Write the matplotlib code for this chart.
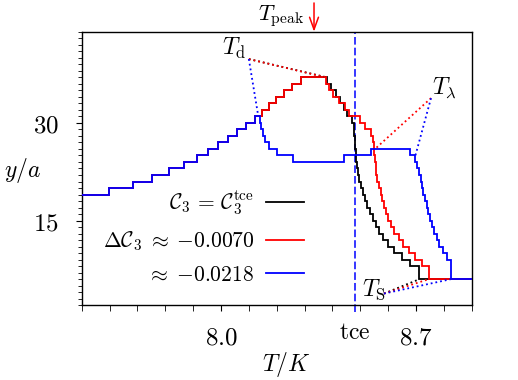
import matplotlib
matplotlib.use("Agg")
import matplotlib.pyplot as plt
from matplotlib.lines import Line2D

plt.rcParams["mathtext.fontset"] = "cm"

# rising branch shared by all three curves: level y starts at T
T_rise = [7.5, 7.598, 7.684, 7.753, 7.815, 7.866, 7.913, 7.952, 7.991, 8.027, 8.059, 8.089, 8.121]
y_rise = [19, 20, 21, 22, 23, 24, 25, 26, 27, 28, 29, 30, 31]

# blue (dC3 ~ -0.0218) after its peak
T_blue = [8.140, 8.144, 8.151, 8.159, 8.174, 8.200, 8.259, 8.443, 8.537, 8.678, 8.698,
          8.703, 8.712, 8.718, 8.722, 8.727, 8.732, 8.738, 8.744, 8.751, 8.759, 8.766,
          8.774, 8.784, 8.797, 8.810, 8.824]
y_blue = [30, 29, 28, 27, 26, 25, 24, 25, 26, 25, 24,
          23, 22, 21, 20, 19, 18, 17, 16, 15, 14, 13,
          12, 11, 10, 9, 6]

# dome shared by red and black
T_dome = [8.147, 8.173, 8.199, 8.227, 8.256, 8.286]
y_dome = [32, 33, 34, 35, 36, 37]

T_red = [8.376, 8.386, 8.402, 8.423, 8.447, 8.461, 8.500, 8.518, 8.537, 8.545, 8.548,
         8.551, 8.553, 8.556, 8.558, 8.561, 8.566, 8.573, 8.578, 8.585, 8.593, 8.600,
         8.610, 8.622, 8.638, 8.655, 8.675, 8.697, 8.720, 8.745]
y_red = [36, 35, 34, 33, 32, 31, 30, 29, 28, 27, 26,
         25, 24, 23, 22, 21, 20, 19, 18, 17, 16, 15,
         14, 13, 12, 11, 10, 9, 8, 6]

T_black = [8.379, 8.395, 8.413, 8.428, 8.440, 8.454, 8.470, 8.476, 8.479, 8.481, 8.482,
           8.483, 8.485, 8.487, 8.492, 8.497, 8.503, 8.510, 8.517, 8.525, 8.534, 8.544,
           8.555, 8.567, 8.582, 8.600, 8.620, 8.650, 8.678, 8.712]
y_black = [36, 35, 34, 33, 32, 31, 30, 29, 28, 27, 26,
           25, 24, 23, 22, 21, 20, 19, 18, 17, 16, 15,
           14, 13, 12, 11, 10, 9, 8, 6]

T_end = 8.9
T_tce = 8.481
T_peak = 8.334

labels = [r"$\mathcal{C}_3\,=\,\mathcal{C}_3^{\rm tce}$",
          r"$\Delta\mathcal{C}_3\;\approx\;{-}0.0070$",
          r"$\approx\;{-}0.0218$"]
colors = ["black", "red", "blue"]

# annotation points and the curve points they point to
Td = (8.10, 39.8)
Td_to = {"black": (8.379, 37), "red": (8.376, 37), "blue": (8.134, 31)}
Tl = (8.754, 33.8)
Tl_to = {"red": (8.553, 26), "blue": (8.698, 25)}
Ts = (8.585, 3.8)
Ts_to = {"black": (8.712, 6), "red": (8.745, 6), "blue": (8.824, 6)}

fig = plt.figure(figsize=(5.18, 3.80), dpi=100)
ax = fig.add_axes([0.1577, 0.1966, 0.7529, 0.72])

curves = {
    "black": (T_rise + T_dome + T_black + [T_end], y_rise + y_dome + y_black),
    "red": (T_rise + T_dome + T_red + [T_end], y_rise + y_dome + y_red),
    "blue": (T_rise + T_blue + [T_end], y_rise + y_blue),
}
for z, c in enumerate(colors):
    edges, vals = curves[c]
    ax.stairs(vals, edges, baseline=None, color=c, lw=1.3, zorder=2 + z)

for targets, src in [(Td_to, Td), (Tl_to, Tl), (Ts_to, Ts)]:
    for c, (tx, ty) in targets.items():
        ax.plot([src[0], tx], [src[1], ty], ls=":", color=c, lw=1.3, zorder=5)

ax.text(8.005, 40.5, r"$T_{\rm d}$", fontsize=17, va="baseline", ha="left")
ax.text(8.757, 34.5, r"$T_{\lambda}$", fontsize=17, va="baseline", ha="left")
ax.text(8.507, 3.37, r"$T_{\rm S}$", fontsize=17, va="baseline", ha="left")

xt = ax.get_xaxis_transform()
ax.plot([T_tce, T_tce], [-0.025, 1.0], transform=xt, clip_on=False,
        color="blue", ls=(0, (5, 2)), lw=1.1, zorder=1)
ax.text(T_tce, -0.054, r"$\mathrm{tce}$", transform=xt, ha="center", va="top", fontsize=17)

ax.annotate("", xy=(T_peak, 1.0), xycoords=xt, xytext=(T_peak, 1.105), textcoords=xt,
            arrowprops=dict(arrowstyle="->,head_length=0.55,head_width=0.2", color="red",
                            lw=1.1, shrinkA=0, shrinkB=0, mutation_scale=16),
            annotation_clip=False)
ax.text(8.300, 1.057, r"$T_{\rm peak}$", transform=xt, ha="right", va="center", fontsize=16)

ax.set_xlim(7.5, T_end)
ax.set_ylim(2, 44)
ax.set_xticks([8.0, 8.7], [r"$8.0$", r"$8.7$"])
ax.set_xticks([7.5 + 0.1 * i for i in range(15)], minor=True)
ax.set_yticks([15, 30], [r"$15$", r"$30$"])
ax.set_yticks(range(2, 45), minor=True)
ax.tick_params(which="both", direction="out", top=False, right=False, labelsize=18)
ax.tick_params(axis="x", which="both", length=4.5, pad=10)
ax.tick_params(axis="y", which="major", length=4.5, pad=12)
ax.tick_params(axis="y", which="minor", length=3)
for s in ax.spines.values():
    s.set_linewidth(1.0)

ax.set_xlabel(r"$T/K$", fontsize=17)
ax.xaxis.set_label_coords(0.5256, -0.165)
ax.set_ylabel(r"$y/a$", fontsize=17, rotation=0, ha="center", va="center")
ax.yaxis.set_label_coords(-0.1505, 0.491)

handles = [Line2D([], [], color=c, lw=1.3) for c in colors]
ax.legend(handles, labels, loc="center right", bbox_to_anchor=(0.598, 0.249),
          frameon=False, markerfirst=False, fontsize=15.5, borderpad=0,
          handlelength=1.77, handletextpad=0.55, labelspacing=0.55)

fig.savefig("out.png", dpi=100)
